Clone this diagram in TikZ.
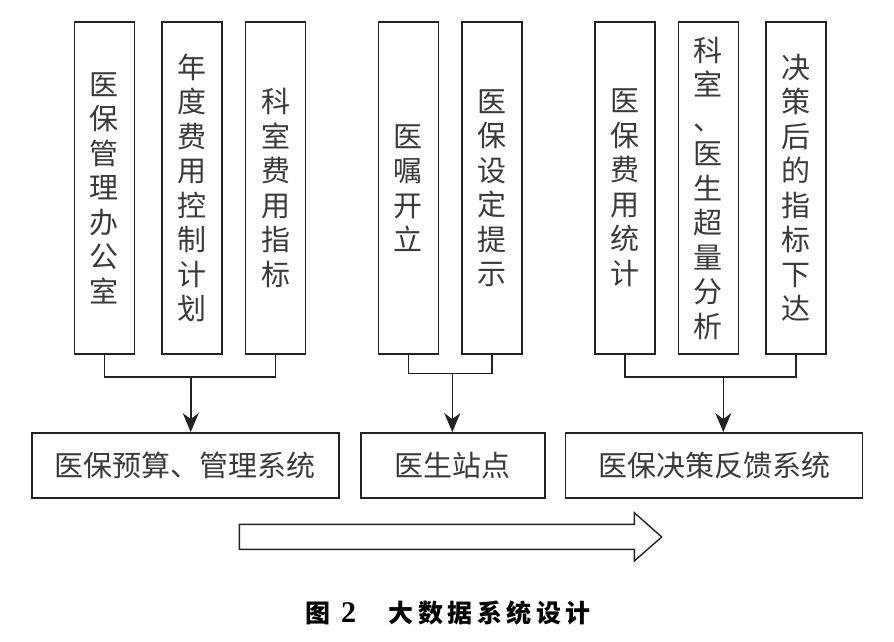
\documentclass[tikz,border=0pt]{standalone}
\usepackage{fontspec}
\setmainfont{Liberation Serif}
\newfontfamily\cjk{Noto Sans CJK SC}
\newfontfamily\capcjk{Noto Sans CJK SC}[LetterSpace=18]
\usetikzlibrary{arrows.meta}
\definecolor{ink}{HTML}{222222}
\definecolor{txt}{HTML}{3A3A3A}
\tikzset{
  tallbox/.style={rectangle,draw=ink,line width=1.6pt,minimum width=60pt,minimum height=332pt,inner sep=0pt,align=center,text=txt,font=\cjk\fontsize{29}{34.5}\selectfont},
  sysbox/.style={rectangle,draw=ink,line width=1.6pt,minimum height=65pt,inner sep=0pt,text=txt,font=\cjk\fontsize{29}{34}\selectfont},
  link/.style={draw=ink,line width=1.6pt},
  flow/.style={link,-{Stealth[length=19pt,width=16pt,inset=6pt]}}
}
\begin{document}
\begin{tikzpicture}[x=1pt,y=-1pt]
\useasboundingbox (0,0) rectangle (894,642);
\node[tallbox] (office) at (104.3,188) {医\\保\\管\\理\\办\\公\\室};
\node[tallbox] (plan) at (191.9,188) {年\\度\\费\\用\\控\\制\\计\\划};
\node[tallbox] (deptidx) at (275.5,188) {科\\室\\费\\用\\指\\标};
\node[tallbox] (order) at (408.4,188) {医\\嘱\\开\\立};
\node[tallbox] (hint) at (491.9,188) {医\\保\\设\\定\\提\\示};
\node[tallbox] (stats) at (624.8,188) {医\\保\\费\\用\\统\\计};
\node[tallbox] (excess) at (708.4,188) {科\\室\\、\\医\\生\\超\\量\\分\\析};
\node[tallbox] (issue) at (796,188) {决\\策\\后\\的\\指\\标\\下\\达};
\node[sysbox,minimum width=307pt] (budget) at (185.4,465.4) {医保预算、管理系统};
\node[sysbox,minimum width=184pt] (station) at (452.9,465.4) {医生站点};
\node[sysbox,minimum width=297pt] (feedback) at (714,465.4) {医保决策反馈系统};
\coordinate (j1) at (190.7,376.7);
\coordinate (j2) at (452.3,373.3);
\coordinate (j3) at (723.3,376.7);
\draw[link] (office.south) |- (j1) -| (deptidx.south);
\draw[link] (order.south) |- (j2) -| (hint.south);
\draw[link] (stats.south) |- (j3) -| (issue.south);
\draw[flow] (j1) -- (j1 |- budget.north);
\draw[flow] (j2) -- (j2 |- station.north);
\draw[flow] (j3) -- (j3 |- feedback.north);
\draw[ink,line width=1.4pt] (239.3,524.3) -- (634.3,524.3) -- (634.3,512.7) -- (661.7,537) -- (634.3,561) -- (634.3,549.3) -- (239.3,549.3) -- cycle;
\node[font=\fontsize{25}{28}\selectfont,text=black] (caption) at (448,613) {{\capcjk\bfseries 图}\hspace{0.25em}{\fontsize{30}{30}\selectfont\textbf{2}}\hspace{1.3em}{\capcjk\bfseries 大数据系统设计}};
\end{tikzpicture}
\end{document}
